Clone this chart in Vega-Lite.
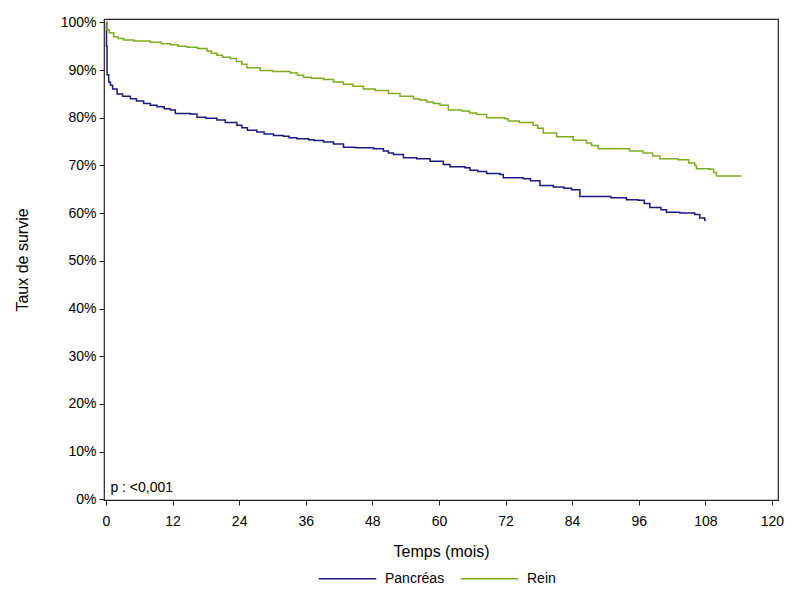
{
  "$schema": "https://vega.github.io/schema/vega-lite/v6.json",
  "autosize": {"type": "none"},
  "padding": {"left": 104, "top": 19, "right": 22, "bottom": 100},
  "width": 674,
  "height": 481,
  "background": "white",
  "datasets": {
    "survie": [
      {"groupe": "Pancréas", "t": 0, "s": 1.0},
      {"groupe": "Pancréas", "t": 0.1, "s": 0.95},
      {"groupe": "Pancréas", "t": 0.2, "s": 0.89},
      {"groupe": "Pancréas", "t": 0.5, "s": 0.875},
      {"groupe": "Pancréas", "t": 0.8, "s": 0.868},
      {"groupe": "Pancréas", "t": 1.2, "s": 0.86},
      {"groupe": "Pancréas", "t": 2, "s": 0.85},
      {"groupe": "Pancréas", "t": 3, "s": 0.845},
      {"groupe": "Pancréas", "t": 4.4, "s": 0.84},
      {"groupe": "Pancréas", "t": 5.5, "s": 0.835},
      {"groupe": "Pancréas", "t": 6.8, "s": 0.83},
      {"groupe": "Pancréas", "t": 8, "s": 0.826},
      {"groupe": "Pancréas", "t": 9.2, "s": 0.823},
      {"groupe": "Pancréas", "t": 10.5, "s": 0.819},
      {"groupe": "Pancréas", "t": 11.6, "s": 0.816},
      {"groupe": "Pancréas", "t": 12.5, "s": 0.809},
      {"groupe": "Pancréas", "t": 15.2, "s": 0.808},
      {"groupe": "Pancréas", "t": 16.4, "s": 0.801},
      {"groupe": "Pancréas", "t": 18, "s": 0.799},
      {"groupe": "Pancréas", "t": 20, "s": 0.795},
      {"groupe": "Pancréas", "t": 21.5, "s": 0.79},
      {"groupe": "Pancréas", "t": 23.6, "s": 0.784},
      {"groupe": "Pancréas", "t": 24.5, "s": 0.779},
      {"groupe": "Pancréas", "t": 25.5, "s": 0.774},
      {"groupe": "Pancréas", "t": 27.2, "s": 0.77},
      {"groupe": "Pancréas", "t": 28.5, "s": 0.766},
      {"groupe": "Pancréas", "t": 30.2, "s": 0.763},
      {"groupe": "Pancréas", "t": 32, "s": 0.761},
      {"groupe": "Pancréas", "t": 33, "s": 0.758},
      {"groupe": "Pancréas", "t": 34.4, "s": 0.756},
      {"groupe": "Pancréas", "t": 36.5, "s": 0.754},
      {"groupe": "Pancréas", "t": 37.5, "s": 0.752},
      {"groupe": "Pancréas", "t": 39.2, "s": 0.749},
      {"groupe": "Pancréas", "t": 41, "s": 0.745},
      {"groupe": "Pancréas", "t": 42.8, "s": 0.738},
      {"groupe": "Pancréas", "t": 45, "s": 0.737},
      {"groupe": "Pancréas", "t": 48.2, "s": 0.735},
      {"groupe": "Pancréas", "t": 50, "s": 0.73},
      {"groupe": "Pancréas", "t": 50.9, "s": 0.726},
      {"groupe": "Pancréas", "t": 51.8, "s": 0.723},
      {"groupe": "Pancréas", "t": 53.6, "s": 0.716},
      {"groupe": "Pancréas", "t": 56, "s": 0.714},
      {"groupe": "Pancréas", "t": 58.4, "s": 0.709},
      {"groupe": "Pancréas", "t": 60.8, "s": 0.702},
      {"groupe": "Pancréas", "t": 62, "s": 0.697},
      {"groupe": "Pancréas", "t": 64.7, "s": 0.695},
      {"groupe": "Pancréas", "t": 65.6, "s": 0.69},
      {"groupe": "Pancréas", "t": 67, "s": 0.687},
      {"groupe": "Pancréas", "t": 68.6, "s": 0.683},
      {"groupe": "Pancréas", "t": 71, "s": 0.681},
      {"groupe": "Pancréas", "t": 71.6, "s": 0.674},
      {"groupe": "Pancréas", "t": 75.2, "s": 0.672},
      {"groupe": "Pancréas", "t": 76.5, "s": 0.668},
      {"groupe": "Pancréas", "t": 78.2, "s": 0.658},
      {"groupe": "Pancréas", "t": 80.6, "s": 0.655},
      {"groupe": "Pancréas", "t": 82.5, "s": 0.652},
      {"groupe": "Pancréas", "t": 83.9, "s": 0.649},
      {"groupe": "Pancréas", "t": 85.4, "s": 0.635},
      {"groupe": "Pancréas", "t": 91, "s": 0.632},
      {"groupe": "Pancréas", "t": 93.8, "s": 0.628},
      {"groupe": "Pancréas", "t": 95.9, "s": 0.627},
      {"groupe": "Pancréas", "t": 97, "s": 0.62},
      {"groupe": "Pancréas", "t": 98, "s": 0.612},
      {"groupe": "Pancréas", "t": 100, "s": 0.607},
      {"groupe": "Pancréas", "t": 101, "s": 0.602},
      {"groupe": "Pancréas", "t": 103.4, "s": 0.6},
      {"groupe": "Pancréas", "t": 106.1, "s": 0.597},
      {"groupe": "Pancréas", "t": 107, "s": 0.59},
      {"groupe": "Pancréas", "t": 107.9, "s": 0.585},
      {"groupe": "Pancréas", "t": 108.1, "s": 0.585},
      {"groupe": "Rein", "t": 0, "s": 1.0},
      {"groupe": "Rein", "t": 0.2, "s": 0.984},
      {"groupe": "Rein", "t": 0.6, "s": 0.978},
      {"groupe": "Rein", "t": 1.4, "s": 0.97},
      {"groupe": "Rein", "t": 2.2, "s": 0.966},
      {"groupe": "Rein", "t": 3.2, "s": 0.963},
      {"groupe": "Rein", "t": 5, "s": 0.961},
      {"groupe": "Rein", "t": 8, "s": 0.958},
      {"groupe": "Rein", "t": 10, "s": 0.955},
      {"groupe": "Rein", "t": 11.6, "s": 0.953},
      {"groupe": "Rein", "t": 13, "s": 0.95},
      {"groupe": "Rein", "t": 14.6, "s": 0.948},
      {"groupe": "Rein", "t": 16.5, "s": 0.945},
      {"groupe": "Rein", "t": 18.2, "s": 0.94},
      {"groupe": "Rein", "t": 19, "s": 0.935},
      {"groupe": "Rein", "t": 20, "s": 0.931},
      {"groupe": "Rein", "t": 21, "s": 0.927},
      {"groupe": "Rein", "t": 22.4, "s": 0.924},
      {"groupe": "Rein", "t": 23.5, "s": 0.918},
      {"groupe": "Rein", "t": 24.5, "s": 0.912},
      {"groupe": "Rein", "t": 25.4, "s": 0.905},
      {"groupe": "Rein", "t": 27.8, "s": 0.899},
      {"groupe": "Rein", "t": 30, "s": 0.897},
      {"groupe": "Rein", "t": 33.2, "s": 0.894},
      {"groupe": "Rein", "t": 34.5, "s": 0.889},
      {"groupe": "Rein", "t": 35.6, "s": 0.885},
      {"groupe": "Rein", "t": 37, "s": 0.883},
      {"groupe": "Rein", "t": 39.2, "s": 0.88},
      {"groupe": "Rein", "t": 41, "s": 0.875},
      {"groupe": "Rein", "t": 42.8, "s": 0.87},
      {"groupe": "Rein", "t": 44.5, "s": 0.866},
      {"groupe": "Rein", "t": 46.4, "s": 0.86},
      {"groupe": "Rein", "t": 48.5, "s": 0.857},
      {"groupe": "Rein", "t": 50.9, "s": 0.851},
      {"groupe": "Rein", "t": 53, "s": 0.845},
      {"groupe": "Rein", "t": 55.4, "s": 0.84},
      {"groupe": "Rein", "t": 56.5, "s": 0.837},
      {"groupe": "Rein", "t": 57.8, "s": 0.833},
      {"groupe": "Rein", "t": 59, "s": 0.83},
      {"groupe": "Rein", "t": 60.2, "s": 0.826},
      {"groupe": "Rein", "t": 61.7, "s": 0.816},
      {"groupe": "Rein", "t": 64.1, "s": 0.814},
      {"groupe": "Rein", "t": 65.5, "s": 0.81},
      {"groupe": "Rein", "t": 66.8, "s": 0.807},
      {"groupe": "Rein", "t": 68.6, "s": 0.8},
      {"groupe": "Rein", "t": 71.9, "s": 0.798},
      {"groupe": "Rein", "t": 72.5, "s": 0.793},
      {"groupe": "Rein", "t": 74.5, "s": 0.79},
      {"groupe": "Rein", "t": 77, "s": 0.784},
      {"groupe": "Rein", "t": 77.8, "s": 0.778},
      {"groupe": "Rein", "t": 78.8, "s": 0.768},
      {"groupe": "Rein", "t": 81.2, "s": 0.76},
      {"groupe": "Rein", "t": 84.2, "s": 0.753},
      {"groupe": "Rein", "t": 86.6, "s": 0.747},
      {"groupe": "Rein", "t": 87.5, "s": 0.742},
      {"groupe": "Rein", "t": 88.7, "s": 0.735},
      {"groupe": "Rein", "t": 94.4, "s": 0.73},
      {"groupe": "Rein", "t": 96.8, "s": 0.726},
      {"groupe": "Rein", "t": 98.5, "s": 0.72},
      {"groupe": "Rein", "t": 99.8, "s": 0.714},
      {"groupe": "Rein", "t": 103.1, "s": 0.712},
      {"groupe": "Rein", "t": 105, "s": 0.705},
      {"groupe": "Rein", "t": 106.1, "s": 0.7},
      {"groupe": "Rein", "t": 106.4, "s": 0.693},
      {"groupe": "Rein", "t": 108.8, "s": 0.692},
      {"groupe": "Rein", "t": 109.5, "s": 0.685},
      {"groupe": "Rein", "t": 110, "s": 0.678},
      {"groupe": "Rein", "t": 114.5, "s": 0.678}
    ],
    "note": [
      {"t": 0.8, "s": 0.024, "texte": "p : <0,001"}
    ]
  },
  "layer": [
    {
      "data": {"name": "survie"},
      "mark": {"type": "line", "interpolate": "step-after", "strokeWidth": 1.5},
      "encoding": {
        "x": {
          "field": "t",
          "type": "quantitative",
          "title": "Temps (mois)",
          "scale": {"domain": [-0.35, 121.1], "nice": false, "zero": false},
          "axis": {"values": [0, 12, 24, 36, 48, 60, 72, 84, 96, 108, 120], "labelPadding": 9, "titlePadding": 15}
        },
        "y": {
          "field": "s",
          "type": "quantitative",
          "title": "Taux de survie",
          "scale": {"domain": [-0.0015, 1.007], "nice": false, "zero": false},
          "axis": {"values": [0, 0.1, 0.2, 0.3, 0.4, 0.5, 0.6, 0.7, 0.8, 0.9, 1], "format": ".0%", "labelPadding": 3, "titlePadding": 30}
        },
        "color": {
          "field": "groupe",
          "type": "nominal",
          "scale": {"domain": ["Pancréas", "Rein"], "range": ["#1a1a7e", "#7dad1e"]},
          "legend": {
            "title": null,
            "orient": "none",
            "direction": "horizontal",
            "legendX": 214,
            "legendY": 530,
            "symbolType": "stroke",
            "symbolSize": 3300,
            "symbolStrokeWidth": 1.5,
            "labelFontSize": 14,
            "columnPadding": 12,
            "labelOffset": 8
          }
        }
      }
    },
    {
      "data": {"name": "note"},
      "mark": {"type": "text", "align": "left", "baseline": "middle", "fontSize": 14, "color": "black"},
      "encoding": {
        "x": {"field": "t", "type": "quantitative"},
        "y": {"field": "s", "type": "quantitative"},
        "text": {"field": "texte", "type": "nominal"}
      }
    }
  ],
  "config": {
    "font": "Liberation Sans",
    "view": {"stroke": "#222222", "strokeWidth": 1.2},
    "axis": {
      "grid": false,
      "domain": false,
      "tickColor": "#222222",
      "tickSize": 5,
      "labelFontSize": 14,
      "labelColor": "black",
      "titleFontSize": 16,
      "titleFontWeight": "normal",
      "titleColor": "black"
    },
    "legend": {"labelColor": "black"}
  }
}
